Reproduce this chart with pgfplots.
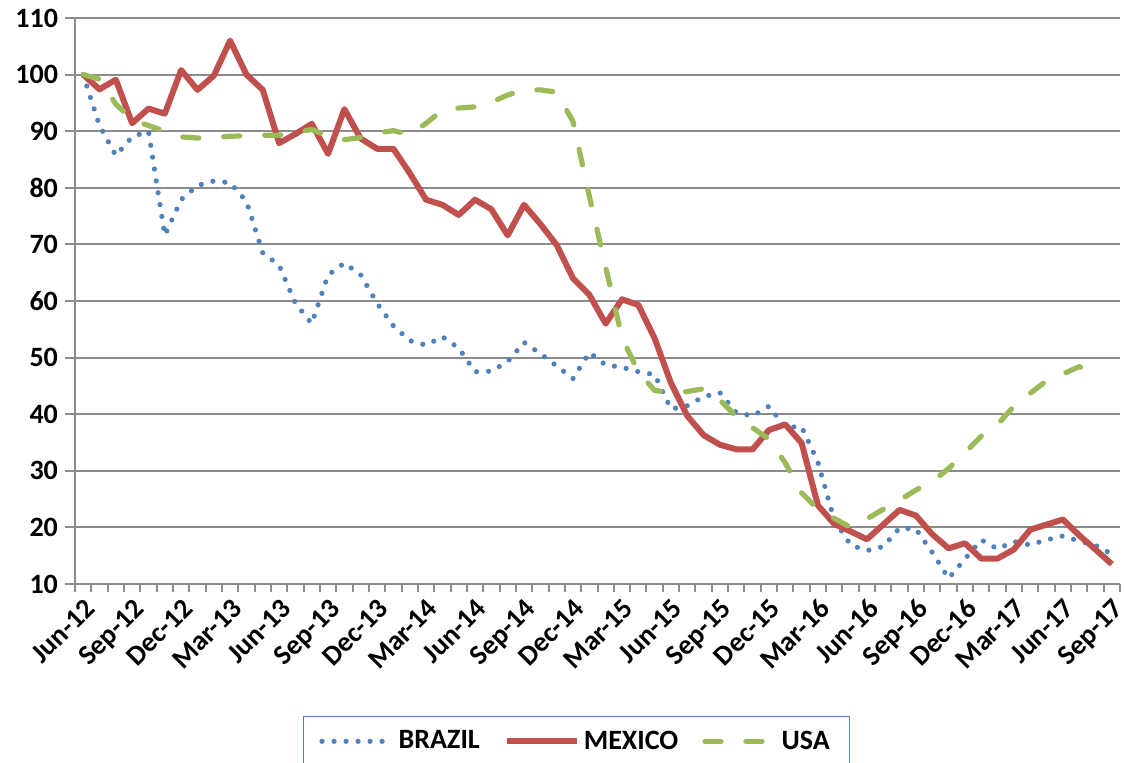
\documentclass[border=0pt]{standalone}
\usepackage{fontspec}
\setmainfont{Carlito}
\usepackage{pgfplots}
\pgfplotsset{compat=1.18}
\usepackage{pgfplotstable}
\definecolor{cBrazil}{HTML}{4F81BD}
\definecolor{cMexico}{HTML}{C0504D}
\definecolor{cUSA}{HTML}{9BBB59}
\definecolor{cGrid}{HTML}{8C8C8C}

\pgfplotstableread{
idx brazil mexico usa
0 100 100 100
1 91.0 97.4 99.2
2 85.7 99.1 94.8
3 89.0 91.4 92.0
4 90.0 94.0 91.0
5 71.6 93.1 90.0
6 77.9 100.8 89.0
7 80.4 97.3 88.8
8 81.2 99.8 88.9
9 80.9 106.0 89.1
10 77.6 100.0 89.2
11 68.5 97.3 89.3
12 66.3 87.9 89.3
13 59.6 89.5 89.8
14 56.0 91.3 90.3
15 64.6 86.0 89.1
16 66.7 93.9 88.5
17 64.6 88.7 88.9
18 59.6 86.9 89.7
19 55.6 86.9 90.1
20 53.0 82.6 89.4
21 52.2 77.9 91.4
22 53.7 77.0 93.7
23 51.7 75.2 94.1
24 47.5 77.9 94.3
25 47.6 76.2 95.1
26 49.3 71.6 96.4
27 52.7 77.0 97.3
28 50.7 73.6 97.3
29 48.5 69.9 96.9
30 46.3 64.0 91.7
31 50.9 61.1 78.5
32 48.7 56.0 66.0
33 48.3 60.3 53.5
34 47.5 59.3 47.5
35 47.0 53.4 44.2
36 40.9 45.5 43.8
37 41.5 39.7 44.0
38 43.1 36.3 44.5
39 43.8 34.6 42.5
40 40.3 33.8 39.6
41 39.7 33.8 37.6
42 41.4 37.2 35.6
43 37.7 38.2 31.4
44 37.8 34.9 26.1
45 31.5 23.9 23.2
46 21.3 20.6 21.6
47 16.9 19.3 20.0
48 15.9 17.9 21.5
49 16.6 20.5 23.2
50 19.9 23.1 24.8
51 19.7 22.1 26.6
52 15.6 18.8 28.1
53 11.0 16.3 30.4
54 14.4 17.2 33.2
55 17.8 14.5 36.1
56 16.2 14.5 38.2
57 17.5 16.1 41.4
58 16.9 19.6 43.7
59 17.8 20.5 45.9
60 18.5 21.4 47.1
61 17.6 18.6 48.4
62 16.8 16.1 47.3
63 15.3 13.5 nan
}\data

\begin{document}
\begin{tikzpicture}
\useasboundingbox (-37.5pt,-89pt) rectangle (524.5pt,292pt);
\begin{axis}[
  at={(0,0)}, anchor=south west,
  scale only axis, width=522.5pt, height=283pt,
  xmin=-0.5, xmax=63.5, ymin=10, ymax=110,
  ytick={10,20,...,110},
  xtick={0,3,...,63},
  xticklabels={Jun-12,Sep-12,Dec-12,Mar-13,Jun-13,Sep-13,Dec-13,Mar-14,Jun-14,Sep-14,Dec-14,Mar-15,Jun-15,Sep-15,Dec-15,Mar-16,Jun-16,Sep-16,Dec-16,Mar-17,Jun-17,Sep-17},
  minor xtick={-0.5,0.5,...,63.5},
  axis x line*=bottom, axis y line*=left,
  axis line style={cGrid, line width=1pt},
  ymajorgrids, grid style={cGrid, line width=1pt},
  tick align=outside,
  major tick length=5pt, minor tick length=4pt,
  tick style={cGrid, line width=1pt},
  major x tick style={draw=none},
  ticklabel style={font=\bfseries\fontsize{14}{16}\selectfont},
  /pgf/number format/assume math mode=true,
  xticklabel style={rotate=45, anchor=north east, inner sep=1pt},
  legend columns=3,
  legend entries={BRAZIL,MEXICO,USA},
  legend image code/.code={\draw[#1] (0pt,0pt) -- (35pt,0pt);},
  legend style={at={(rel axis cs:0.48,-0.233)}, anchor=north,
    draw=cBrazil, line width=0.75pt, inner xsep=8pt, inner ysep=5pt,
    font=\bfseries\fontsize{14}{16}\selectfont,
    /tikz/every even column/.append style={column sep=10pt}},
]
\addplot[cBrazil, line width=2.6pt, line cap=round, dash pattern=on 0pt off 6pt] table[x=idx,y=brazil]{\data};
\addplot[cMexico, line width=3pt, line join=round] table[x=idx,y=mexico]{\data};
\addplot[cUSA, line width=2.6pt, line cap=round, dash pattern=on 8pt off 12.5pt] table[x=idx,y=usa]{\data};
\end{axis}
\end{tikzpicture}
\end{document}
